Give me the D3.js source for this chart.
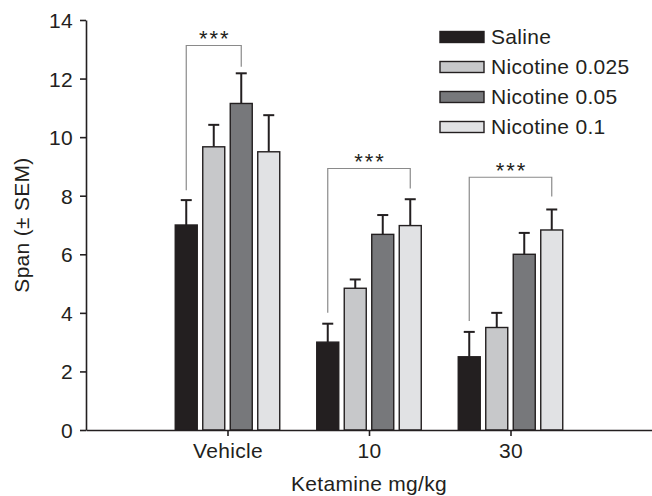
<!DOCTYPE html>
<html><head><meta charset="utf-8">
<script src="https://cdn.jsdelivr.net/npm/d3@7"></script>
<style>
body{margin:0;background:#fff;}
svg{display:block;font-family:"Liberation Sans",Arial,Helvetica,sans-serif;}
</style></head>
<body><svg id="c" width="652" height="496"></svg>
<script>
const categories = ["Vehicle", "10", "30"];
const series = ["Saline", "Nicotine 0.025", "Nicotine 0.05", "Nicotine 0.1"];
const seriesColors = ["#231f20", "#c7c8ca", "#77787b", "#e1e2e4"];
const means = [
  [7.0, 9.67, 11.15, 9.5],
  [3.0, 4.84, 6.68, 6.98],
  [2.5, 3.5, 6.0, 6.83]
];
const sems = [
  [0.85, 0.75, 1.03, 1.25],
  [0.63, 0.30, 0.66, 0.90],
  [0.85, 0.50, 0.73, 0.70]
];
const yTicks = [0, 2, 4, 6, 8, 10, 12, 14];
// significance brackets: group index, from series, to series, top, left leg end, right leg end
const brackets = [
  {g: 0, a: 0, b: 2, top: 13.13, l: 8.19, r: 12.4, label: "***"},
  {g: 1, a: 0, b: 3, top: 8.93, l: 4.0, r: 8.25, label: "***"},
  {g: 2, a: 0, b: 3, top: 8.63, l: 3.72, r: 7.97, label: "***"}
];

const dark = "#231f20";
const fs = 21, ls = 0.3;
const svg = d3.select("#c");
const mLeft = 86, mRight = 652, mTop = 20, mBottom = 430;

const x = d3.scalePoint().domain(categories).range([mLeft, mRight]).padding(1);
const y = d3.scaleLinear().domain([0, 14]).range([mBottom, mTop]);
const inner = d3.scaleBand().domain(series).range([-55, 55]).paddingInner(0.2).paddingOuter(0.1);

// brackets
brackets.forEach(br => {
  const cx = x(categories[br.g]);
  const xa = cx + inner(series[br.a]) + inner.bandwidth() / 2;
  const xb = cx + inner(series[br.b]) + inner.bandwidth() / 2;
  svg.append("path")
    .attr("d", `M${xa},${y(br.l)}V${y(br.top)}H${xb}V${y(br.r)}`)
    .attr("fill", "none").attr("stroke", "#8a8a8a").attr("stroke-width", 1.2);
  svg.append("text").attr("x", (xa + xb) / 2 + 1).attr("y", y(br.top) + 1)
    .attr("text-anchor", "middle").attr("font-size", 22).attr("letter-spacing", 2)
    .attr("fill", dark).text(br.label);
});

// bars
categories.forEach((cat, gi) => {
  const g = svg.append("g").attr("transform", `translate(${x(cat)},0)`);
  series.forEach((s, si) => {
    const bx = inner(s), bw = inner.bandwidth();
    const v = means[gi][si], e = sems[gi][si];
    const cxb = bx + bw / 2;
    g.append("line").attr("x1", cxb).attr("x2", cxb).attr("y1", y(v)).attr("y2", y(v + e))
      .attr("stroke", dark).attr("stroke-width", 2);
    g.append("line").attr("x1", cxb - 5.5).attr("x2", cxb + 5.5).attr("y1", y(v + e)).attr("y2", y(v + e))
      .attr("stroke", dark).attr("stroke-width", 2);
    g.append("rect").attr("x", bx).attr("width", bw).attr("y", y(v)).attr("height", y(0) - y(v))
      .attr("fill", seriesColors[si]).attr("stroke", dark).attr("stroke-width", 1.4);
  });
});

// axes
const yAxis = svg.append("g").attr("transform", `translate(${mLeft},0)`)
  .call(d3.axisLeft(y).tickValues(yTicks).tickSize(6).tickSizeOuter(0).tickPadding(7));
const xAxis = svg.append("g").attr("transform", `translate(0,${mBottom})`)
  .call(d3.axisBottom(x).tickSize(6).tickSizeOuter(0).tickPadding(7));
[yAxis, xAxis].forEach(a => {
  a.selectAll("path,line").attr("stroke", dark).attr("stroke-width", 1.6);
  a.selectAll("text").attr("fill", dark).attr("font-size", fs).attr("letter-spacing", ls)
    .attr("font-family", "Liberation Sans, Arial, sans-serif");
});
xAxis.selectAll("text").attr("dy", null).attr("y", 27.5);
yAxis.selectAll("text").attr("dy", "0.36em");

svg.append("text").attr("transform", `translate(29,${(mTop + mBottom) / 2}) rotate(-90)`)
  .attr("text-anchor", "middle").attr("font-size", fs).attr("letter-spacing", ls).attr("fill", dark).text("Span (± SEM)");
svg.append("text").attr("x", (mLeft + mRight) / 2).attr("y", 491)
  .attr("text-anchor", "middle").attr("font-size", fs).attr("letter-spacing", ls).attr("fill", dark).text("Ketamine mg/kg");

// legend
const lg = svg.append("g").attr("transform", "translate(440,31.5)");
series.forEach((s, i) => {
  const row = lg.append("g").attr("transform", `translate(0,${i * 30})`);
  row.append("rect").attr("width", 44).attr("height", 11)
    .attr("fill", seriesColors[i]).attr("stroke", dark).attr("stroke-width", 1.4);
  row.append("text").attr("x", 51).attr("y", 12).attr("font-size", fs).attr("letter-spacing", ls)
    .attr("fill", dark).text(s);
});
</script></body></html>
